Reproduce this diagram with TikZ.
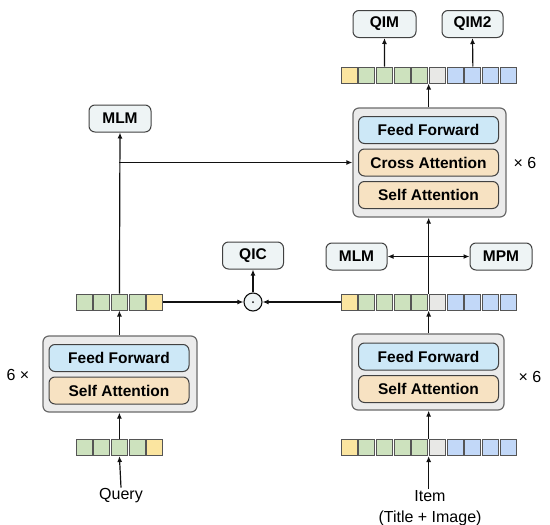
\documentclass[tikz,border=0pt]{standalone}
\usepackage{fontspec}
\setmainfont{Liberation Sans}
\usetikzlibrary{arrows.meta,calc}
\definecolor{tokgreen}{HTML}{CDE2BE}
\definecolor{tokyellow}{HTML}{FBE5A0}
\definecolor{tokblue}{HTML}{C2D8F8}
\definecolor{tokgrey}{HTML}{E8E8E6}
\definecolor{tokline}{HTML}{555555}
\definecolor{blockfill}{HTML}{EBEBEB}
\definecolor{blockline}{HTML}{6A6A6A}
\definecolor{fffill}{HTML}{CDE8F7}
\definecolor{attfill}{HTML}{F7E2C2}
\definecolor{headfill}{HTML}{EEF4F5}
\definecolor{linecol}{HTML}{111111}
\begin{document}
\begin{tikzpicture}[x=1pt,y=-1pt,
  tok/.style={draw=tokline,line width=1pt,minimum width=16pt,minimum height=16pt,inner sep=0pt},
  blockbox/.style={draw=blockline,fill=blockfill,line width=1.2pt,rounded corners=6pt,inner sep=0pt},
  layerbox/.style={draw=linecol!80,line width=1pt,rounded corners=6pt,minimum width=140pt,minimum height=27pt,inner sep=0pt,font=\fontsize{15.5}{18}\selectfont\bfseries},
  headbox/.style={draw=linecol!80,fill=headfill,line width=1pt,rounded corners=6pt,minimum width=62pt,minimum height=27pt,inner sep=0pt,font=\fontsize{15.5}{18}\selectfont\bfseries},
  plain/.style={inner sep=1pt,font=\fontsize{16}{19}\selectfont},
  arr/.style={draw=linecol,line width=1.2pt,-{Latex[length=6pt,width=5pt]}},
  arrboth/.style={draw=linecol,line width=1.2pt,{Latex[length=6pt,width=5pt]}-{Latex[length=6pt,width=5pt]}},
  ln/.style={draw=linecol,line width=1.2pt}]
\useasboundingbox (0,0) rectangle (550,525);

% token rows
\foreach \c [count=\i] in {tokgreen,tokgreen,tokgreen,tokgreen,tokyellow}
  \node[tok,fill=\c] (qb\i) at ({84+(\i-1)*17.7},447.5) {};
\foreach \c [count=\i] in {tokgreen,tokgreen,tokgreen,tokgreen,tokyellow}
  \node[tok,fill=\c] (qm\i) at ({84+(\i-1)*17.7},302) {};
\foreach \c [count=\i] in {tokyellow,tokgreen,tokgreen,tokgreen,tokgreen,tokgrey,tokblue,tokblue,tokblue,tokblue}
  \node[tok,fill=\c] (ib\i) at ({349+(\i-1)*17.7},447.5) {};
\foreach \c [count=\i] in {tokyellow,tokgreen,tokgreen,tokgreen,tokgreen,tokgrey,tokblue,tokblue,tokblue,tokblue}
  \node[tok,fill=\c] (im\i) at ({349+(\i-1)*17.7},302) {};
\foreach \c [count=\i] in {tokyellow,tokgreen,tokgreen,tokgreen,tokgreen,tokgrey,tokblue,tokblue,tokblue,tokblue}
  \node[tok,fill=\c] (it\i) at ({349+(\i-1)*17.7},75) {};

\coordinate (ibm) at ($(ib5.east)!.5!(ib6.west)$);
\coordinate (imm) at ($(im5.east)!.5!(im6.west)$);
\coordinate (itm) at ($(it5.east)!.5!(it6.west)$);

% left encoder
\node[blockbox,minimum width=154pt,minimum height=76pt] (lb) at (120,374) {};
\node[layerbox,fill=fffill] (lbff) at (119,358) {Feed Forward};
\node[layerbox,fill=attfill] (lbsa) at (119,390.5) {Self Attention};
\node[plain] (lbx) at (18,375) {6 ×};

% right lower encoder
\node[blockbox,minimum width=152pt,minimum height=76pt] (rb) at (428,372) {};
\node[layerbox,fill=fffill] (rbff) at (428.5,356.5) {Feed Forward};
\node[layerbox,fill=attfill] (rbsa) at (428.5,389) {Self Attention};
\node[plain] (rbx) at (530,377) {× 6};

% right top fusion block
\node[blockbox,minimum width=153pt,minimum height=109pt] (rt) at (429.5,162.5) {};
\node[layerbox,fill=fffill] (rtff) at (428.5,130) {Feed Forward};
\node[layerbox,fill=attfill] (rtca) at (428.5,162.5) {Cross Attention};
\node[layerbox,fill=attfill] (rtsa) at (428.5,195) {Self Attention};
\node[plain] (rtx) at (525,163) {× 6};

% heads
\node[headbox,minimum width=63pt] (qim) at (384.5,24) {QIM};
\node[headbox,minimum width=61pt] (qim2) at (472.5,24) {QIM2};
\node[headbox] (mlml) at (120,118.5) {MLM};
\node[headbox,minimum width=61pt] (qic) at (253,255.5) {QIC};
\node[headbox,minimum width=61pt] (mlmr) at (356.5,256.5) {MLM};
\node[headbox] (mpm) at (501,256.5) {MPM};

% dot product
\node[circle,draw=linecol,line width=1.1pt,fill=headfill,minimum size=18pt,inner sep=0pt] (dot) at (253,302) {};
\fill[linecol] (dot.center) circle (1pt);

% inputs
\node[plain] (query) at (121,496) {Query};
\node[plain,align=center,font=\fontsize{16}{21}\selectfont] (item) at (430,508) {Item\\(Title + Image)};

% connectors left
\draw[arr] (query.north) -- (qb3.south);
\draw[arr] (qb3.north) -- (lb.south -| qb3.north);
\draw[arr] (lb.north -| qm3.south) -- (qm3.south);
\draw[arr] (qm3.north) -- (mlml.south);
\draw[arr] (qm3.north |- rt.west) -- (rt.west);
\draw[arr] (qm5.east) -- (dot.west);
\draw[arr] (im1.west) -- (dot.east);
\draw[arr] (dot.north) -- (qic.south);

% connectors right
\draw[arr] (item.north -| ibm) -- (ibm |- ib5.south);
\draw[arr] (ibm |- ib5.north) -- (ibm |- rb.south);
\draw[arr] (imm |- rb.north) -- (imm |- im5.south);
\draw[arr] (imm |- im5.north) -- (imm |- rt.south);
\draw[arrboth] (mlmr.east) -- (mpm.west);
\draw[arr] (itm |- rt.north) -- (itm |- it5.south);
\draw[arr] (it3.north) -- (qim.south);
\draw[arr] (it8.north) -- (qim2.south);
\end{tikzpicture}
\end{document}
